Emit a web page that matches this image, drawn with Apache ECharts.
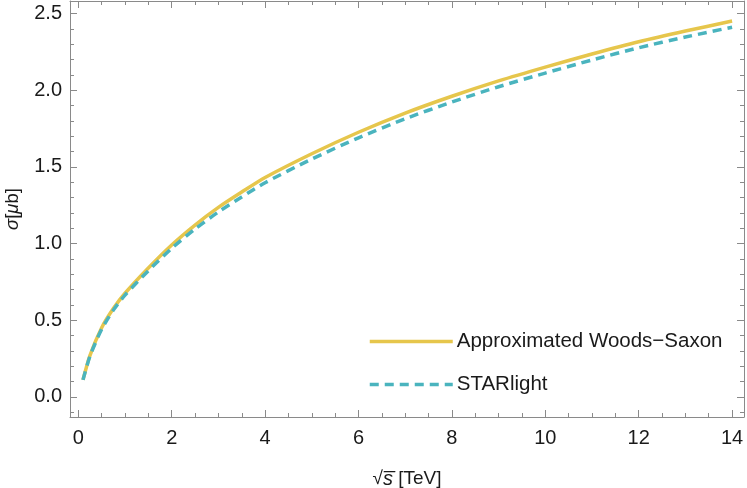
<!DOCTYPE html>
<html>
<head>
<meta charset="utf-8">
<script src="https://cdn.jsdelivr.net/npm/echarts@6/dist/echarts.min.js"></script>
<style>
  html, body { margin: 0; padding: 0; background: #fff; }
  #chart { width: 747px; height: 488px; }
</style>
</head>
<body>
<div id="chart"></div>
<script>
// sqrt(s) in TeV
const energies = [0.1, 0.25, 0.5, 0.75, 1, 1.5, 2, 2.5, 3, 3.5, 4, 5, 6, 7, 8, 9, 10, 11, 12, 13, 14];
// cross sections in microbarn
const woodsSaxon = [0.11, 0.27, 0.45, 0.575, 0.675, 0.84, 0.99, 1.12, 1.235, 1.335, 1.43, 1.585, 1.725, 1.85, 1.96, 2.06, 2.15, 2.235, 2.315, 2.385, 2.45];
const starlight = [0.11, 0.265, 0.44, 0.565, 0.663, 0.822, 0.968, 1.094, 1.205, 1.303, 1.396, 1.55, 1.689, 1.813, 1.922, 2.022, 2.111, 2.196, 2.276, 2.346, 2.41];

const xMajor = [0, 2, 4, 6, 8, 10, 12, 14];
const xMinor = [0, 0.5, 1, 1.5, 2, 2.5, 3, 3.5, 4, 4.5, 5, 5.5, 6, 6.5, 7, 7.5, 8, 8.5, 9, 9.5, 10, 10.5, 11, 11.5, 12, 12.5, 13, 13.5, 14];
const yMajor = [0, 0.5, 1, 1.5, 2, 2.5];
const yMinor = [-0.1, 0, 0.1, 0.2, 0.3, 0.4, 0.5, 0.6, 0.7, 0.8, 0.9, 1, 1.1, 1.2, 1.3, 1.4, 1.5, 1.6, 1.7, 1.8, 1.9, 2, 2.1, 2.2, 2.3, 2.4, 2.5];

const FONT = '"Liberation Sans", Arial, sans-serif';
const frame = '#8a8a8a';
const X_MIN = -0.178, X_MAX = 14.255;
const Y_MIN = -0.132, Y_MAX = 2.581;

const chart = echarts.init(document.getElementById('chart'));

const pairs = (ys) => energies.map((x, i) => [x, ys[i]]);

// axis builder: major ticks (grid 0) or minor ticks (grid 1)
const xAx = (grid, pos, ticks, len, labels) => ({
  type: 'value', gridIndex: grid, position: pos, min: X_MIN, max: X_MAX,
  axisLine: { show: grid === 0, onZero: false, lineStyle: { color: frame, width: 1 } },
  axisTick: { show: true, inside: true, length: len, customValues: ticks, lineStyle: { color: frame, width: 1 } },
  axisLabel: labels
    ? { show: true, customValues: xMajor, margin: 11, color: '#1a1a1a', fontSize: 20, fontFamily: FONT }
    : { show: false },
  splitLine: { show: false },
});
const yAx = (grid, pos, ticks, len, labels) => ({
  type: 'value', gridIndex: grid, position: pos, min: Y_MIN, max: Y_MAX,
  axisLine: { show: grid === 0, onZero: false, lineStyle: { color: frame, width: 1 } },
  axisTick: { show: true, inside: true, length: len, customValues: ticks, lineStyle: { color: frame, width: 1 } },
  axisLabel: labels
    ? { show: true, customValues: yMajor, margin: 8, color: '#1a1a1a', fontSize: 20, fontFamily: FONT,
        formatter: (v) => v.toFixed(1) }
    : { show: false },
  splitLine: { show: false },
});

const xBottom = xAx(0, 'bottom', xMajor, 7, true);
xBottom.name = '√{s|s\u0305} [TeV]';
xBottom.nameLocation = 'middle';
xBottom.nameGap = 52;
xBottom.nameTextStyle = {
  fontSize: 19, fontFamily: FONT, color: '#1a1a1a',
  rich: { s: { fontSize: 20, fontStyle: 'italic', fontFamily: FONT, color: '#1a1a1a' } },
};

const yLeft = yAx(0, 'left', yMajor, 7, true);
yLeft.name = '{i|σ}[{i|μ}b]';
yLeft.nameLocation = 'middle';
yLeft.nameGap = 48;
yLeft.nameTextStyle = {
  fontSize: 18.5, fontFamily: FONT, color: '#1a1a1a',
  rich: { i: { fontSize: 18.5, fontStyle: 'italic', fontFamily: FONT, color: '#1a1a1a' } },
};

const gridBox = { left: 70, right: 3, top: 1, bottom: 71, outerBoundsMode: 'none', containLabel: false };

const option = {
  backgroundColor: '#fff',
  animation: false,
  grid: [Object.assign({}, gridBox), Object.assign({}, gridBox)],
  xAxis: [
    xBottom,
    xAx(0, 'top', xMajor, 7, false),
    xAx(1, 'bottom', xMinor, 4, false),
    xAx(1, 'top', xMinor, 4, false),
  ],
  yAxis: [
    yLeft,
    yAx(0, 'right', yMajor, 7, false),
    yAx(1, 'left', yMinor, 4, false),
    yAx(1, 'right', yMinor, 4, false),
  ],
  legend: {
    orient: 'vertical',
    left: 363,
    top: 326,
    itemWidth: 83,
    itemHeight: 18,
    itemGap: 22,
    itemStyle: { opacity: 0 },
    lineStyle: { width: 3.5 },
    textStyle: { fontSize: 20.5, fontFamily: FONT, color: '#1a1a1a', padding: [0, 0, 0, -1] },
    data: ['Approximated Woods\u2212Saxon', 'STARlight'],
  },
  series: [
    {
      name: 'Approximated Woods\u2212Saxon',
      type: 'line',
      xAxisIndex: 0,
      yAxisIndex: 0,
      smooth: 0.25,
      symbol: 'none',
      lineStyle: { color: '#e6c64c', width: 3.5 },
      itemStyle: { color: '#e6c64c' },
      data: pairs(woodsSaxon),
    },
    {
      name: 'STARlight',
      type: 'line',
      xAxisIndex: 0,
      yAxisIndex: 0,
      smooth: 0.25,
      symbol: 'none',
      lineStyle: { color: '#4ab4be', width: 3.5, type: [9, 6] },
      itemStyle: { color: '#4ab4be' },
      data: pairs(starlight),
    },
  ],
};

chart.setOption(option);
</script>
</body>
</html>
